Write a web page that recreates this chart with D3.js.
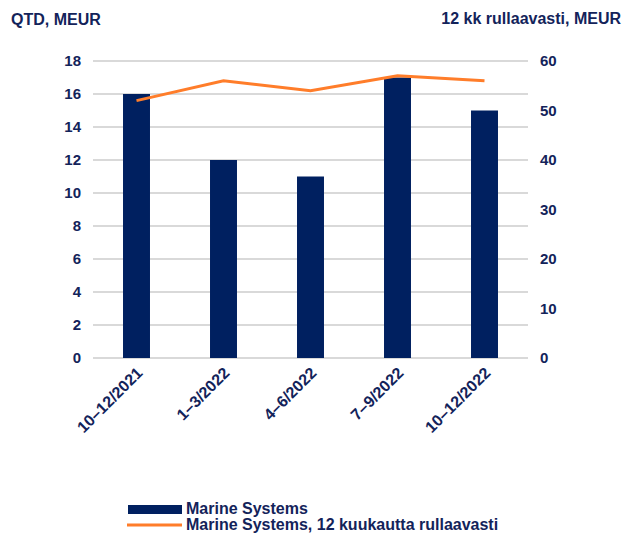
<!DOCTYPE html>
<html><head><meta charset="utf-8">
<script src="https://cdn.jsdelivr.net/npm/d3@7"></script>
<style>body{margin:0;background:#fff}text{font-family:"Liberation Sans",Arial,sans-serif;font-weight:bold;fill:#13235a}</style>
</head><body><svg id="c" width="622" height="534"></svg>
<script>
const categories = ["10–12/2021","1–3/2022","4–6/2022","7–9/2022","10–12/2022"];
const barValues = [16, 12, 11, 17, 15];
const lineValues = [52, 56, 54, 57, 56];
const leftTicks = [0,2,4,6,8,10,12,14,16,18];
const rightTicks = [0,10,20,30,40,50,60];
const seriesNames = ["Marine Systems","Marine Systems, 12 kuukautta rullaavasti"];

const svg = d3.select("#c");
const x0 = 93, x1 = 528, yTop = 61, yBot = 358;
const x = d3.scaleBand().domain(categories).range([x0, x1]).paddingInner(0.69).paddingOuter(0.345);
const yL = d3.scaleLinear().domain([0,18]).range([yBot, yTop]);
const yR = d3.scaleLinear().domain([0,60]).range([yBot, yTop]);
const navy = "#002060", orange = "#ff7d2a";

// gridlines
svg.append("g").selectAll("line").data(leftTicks).join("line")
  .attr("x1", x0).attr("x2", x1).attr("y1", d=>yL(d)).attr("y2", d=>yL(d))
  .attr("stroke", "#d9d9d9").attr("stroke-width", 1.8);

// left axis labels
const ga = svg.append("g").attr("transform", `translate(${x0},0)`)
  .call(d3.axisLeft(yL).tickValues(leftTicks).tickSize(0).tickPadding(12));
ga.select(".domain").remove();
ga.selectAll("text").style("font-size","15px").style("font-family","Liberation Sans, Arial").style("font-weight","bold").attr("fill","#13235a");

const gr = svg.append("g").attr("transform", `translate(${x1},0)`)
  .call(d3.axisRight(yR).tickValues(rightTicks).tickSize(0).tickPadding(12));
gr.select(".domain").remove();
gr.selectAll("text").style("font-size","15px").style("font-family","Liberation Sans, Arial").style("font-weight","bold").attr("fill","#13235a");

// bars
svg.append("g").selectAll("rect").data(barValues).join("rect")
  .attr("x", (d,i)=>x(categories[i])).attr("width", x.bandwidth())
  .attr("y", d=>yL(d)).attr("height", d=>yBot - yL(d)).attr("fill", navy);

// line
const line = d3.line().x((d,i)=>x(categories[i]) + x.bandwidth()/2).y(d=>yR(d));
svg.append("path").datum(lineValues).attr("d", line)
  .attr("fill","none").attr("stroke", orange).attr("stroke-width", 3);

// x labels
svg.append("g").selectAll("text").data(categories).join("text")
  .attr("transform", d=>`translate(${x(d)+x.bandwidth()/2+7},${yBot+16}) rotate(-45)`)
  .attr("text-anchor","end").style("font-size","16px").text(d=>d);

// axis titles
svg.append("text").attr("x", 11).attr("y", 25).style("font-size","16px").text("QTD, MEUR");
svg.append("text").attr("x", 621).attr("y", 24).attr("text-anchor","end").style("font-size","16px").text("12 kk rullaavasti, MEUR");

// legend
svg.append("rect").attr("x",128).attr("y",505).attr("width",54).attr("height",9).attr("fill",navy);
svg.append("line").attr("x1",127).attr("x2",182).attr("y1",525).attr("y2",525).attr("stroke",orange).attr("stroke-width",3);
svg.append("text").attr("x",186).attr("y",513.5).style("font-size","16px").text(seriesNames[0]);
svg.append("text").attr("x",186).attr("y",529.5).style("font-size","16px").text(seriesNames[1]);
</script></body></html>
